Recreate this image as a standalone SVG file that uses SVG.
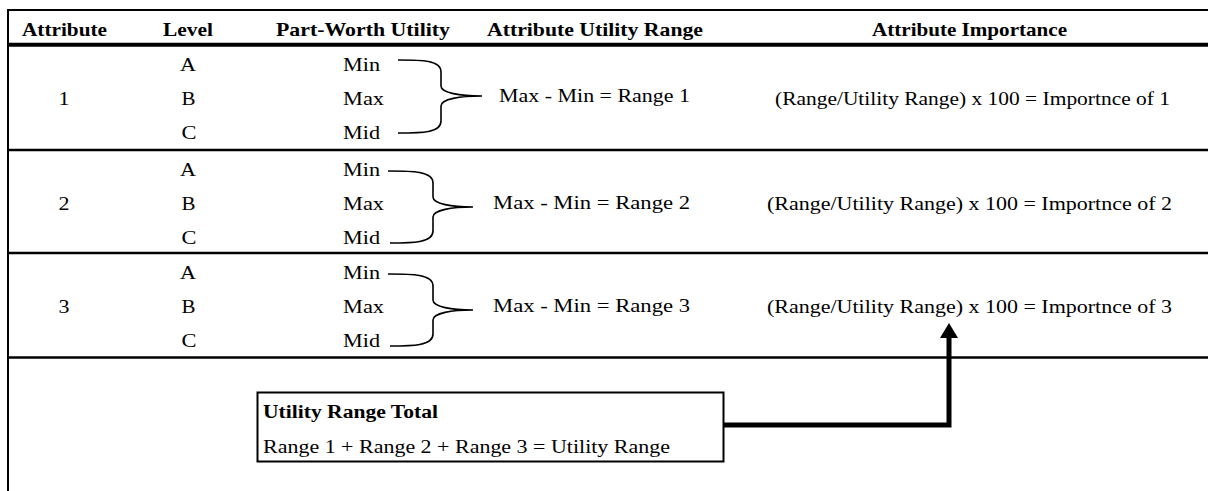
<svg xmlns="http://www.w3.org/2000/svg" width="1208" height="491" viewBox="0 0 1208 491">
<style>
text{font-family:"Liberation Serif","Times New Roman",serif;font-size:18px;fill:#000}
.b{font-weight:bold}
.h{font-size:19px}
.rule{stroke:#000;fill:none}
.brace{stroke:#000;stroke-width:1.6;fill:none}
.conn{stroke:#000;stroke-width:5;fill:none;stroke-linejoin:miter}
</style>
<defs>
<marker id="ah" markerUnits="userSpaceOnUse" viewBox="0 -9 15 18" markerWidth="15" markerHeight="18" refX="1" refY="0" orient="auto">
<path d="M0,-9 L15,0 L0,9 z" fill="#000"/>
</marker>
</defs>
<g id="table-rules">
<line class="rule" x1="7" y1="10" x2="1208" y2="10" stroke-width="2"/>
<line class="rule" x1="7" y1="44.7" x2="1208" y2="44.7" stroke-width="4"/>
<line class="rule" x1="7" y1="150" x2="1208" y2="150" stroke-width="2.6"/>
<line class="rule" x1="7" y1="253" x2="1208" y2="253" stroke-width="2.6"/>
<line class="rule" x1="7" y1="357.5" x2="1208" y2="357.5" stroke-width="2.6"/>
<line class="rule" x1="8" y1="9" x2="8" y2="491" stroke-width="2"/>
</g>
<g id="header">
<text class="b h" x="22" y="36" textLength="85" lengthAdjust="spacingAndGlyphs">Attribute</text>
<text class="b h" x="163" y="36" textLength="50" lengthAdjust="spacingAndGlyphs">Level</text>
<text class="b h" x="276" y="36" textLength="174" lengthAdjust="spacingAndGlyphs">Part-Worth Utility</text>
<text class="b h" x="487" y="36" textLength="216" lengthAdjust="spacingAndGlyphs">Attribute Utility Range</text>
<text class="b h" x="872" y="36" textLength="195" lengthAdjust="spacingAndGlyphs">Attribute Importance</text>
</g>
<g id="attribute-1">
<text x="58.5" y="105" textLength="11" lengthAdjust="spacingAndGlyphs">1</text>
<text x="180" y="71" textLength="16" lengthAdjust="spacingAndGlyphs">A</text>
<text x="181.5" y="105" textLength="14" lengthAdjust="spacingAndGlyphs">B</text>
<text x="181.5" y="139" textLength="15" lengthAdjust="spacingAndGlyphs">C</text>
<text x="343" y="71" textLength="37" lengthAdjust="spacingAndGlyphs">Min</text>
<text x="343" y="105" textLength="41" lengthAdjust="spacingAndGlyphs">Max</text>
<text x="343" y="139" textLength="37" lengthAdjust="spacingAndGlyphs">Mid</text>
<path class="brace" d="M398,60 C422,60 441,60 441,72 L441,86 C441,93 460,96 482,96 C460,96 441,99 441,106 L441,121 C441,133 422,133 398,133"/>
<text x="499" y="102" textLength="191" lengthAdjust="spacingAndGlyphs">Max - Min = Range 1</text>
<text x="775" y="105" textLength="395" lengthAdjust="spacingAndGlyphs">(Range/Utility Range) x 100 = Importnce of 1</text>
</g>
<g id="attribute-2">
<text x="58.5" y="210" textLength="11" lengthAdjust="spacingAndGlyphs">2</text>
<text x="180" y="176" textLength="16" lengthAdjust="spacingAndGlyphs">A</text>
<text x="181.5" y="210" textLength="14" lengthAdjust="spacingAndGlyphs">B</text>
<text x="181.5" y="244" textLength="15" lengthAdjust="spacingAndGlyphs">C</text>
<text x="343" y="176" textLength="37" lengthAdjust="spacingAndGlyphs">Min</text>
<text x="343" y="210" textLength="41" lengthAdjust="spacingAndGlyphs">Max</text>
<text x="343" y="244" textLength="37" lengthAdjust="spacingAndGlyphs">Mid</text>
<path class="brace" d="M388,171 C412,171 433,171 433,183 L433,197 C433,204 452,207 473,207 C452,207 433,210 433,217 L433,231 C433,243 412,243 390,243"/>
<text x="493" y="209" textLength="197" lengthAdjust="spacingAndGlyphs">Max - Min = Range 2</text>
<text x="767" y="210" textLength="405" lengthAdjust="spacingAndGlyphs">(Range/Utility Range) x 100 = Importnce of 2</text>
</g>
<g id="attribute-3">
<text x="58.5" y="313" textLength="11" lengthAdjust="spacingAndGlyphs">3</text>
<text x="180" y="279" textLength="16" lengthAdjust="spacingAndGlyphs">A</text>
<text x="181.5" y="313" textLength="14" lengthAdjust="spacingAndGlyphs">B</text>
<text x="181.5" y="347" textLength="15" lengthAdjust="spacingAndGlyphs">C</text>
<text x="343" y="279" textLength="37" lengthAdjust="spacingAndGlyphs">Min</text>
<text x="343" y="313" textLength="41" lengthAdjust="spacingAndGlyphs">Max</text>
<text x="343" y="347" textLength="37" lengthAdjust="spacingAndGlyphs">Mid</text>
<path class="brace" d="M388,274 C412,274 433,274 433,286 L433,300 C433,307 452,310 473,310 C452,310 433,313 433,320 L433,334 C433,346 412,346 390,346"/>
<text x="493" y="312" textLength="197" lengthAdjust="spacingAndGlyphs">Max - Min = Range 3</text>
<text x="767" y="313" textLength="405" lengthAdjust="spacingAndGlyphs">(Range/Utility Range) x 100 = Importnce of 3</text>
</g>
<g id="utility-range-total">
<rect x="257.5" y="392.5" width="466" height="69" fill="#fff" stroke="#000" stroke-width="2"/>
<text class="b" x="263" y="418" textLength="175" lengthAdjust="spacingAndGlyphs">Utility Range Total</text>
<text x="263" y="453" textLength="407" lengthAdjust="spacingAndGlyphs">Range 1 + Range 2 + Range 3 = Utility Range</text>
</g>
<g id="connectors">
<path class="conn" d="M723,425 L949,425 L949,337" marker-end="url(#ah)"/>
</g>
</svg>
